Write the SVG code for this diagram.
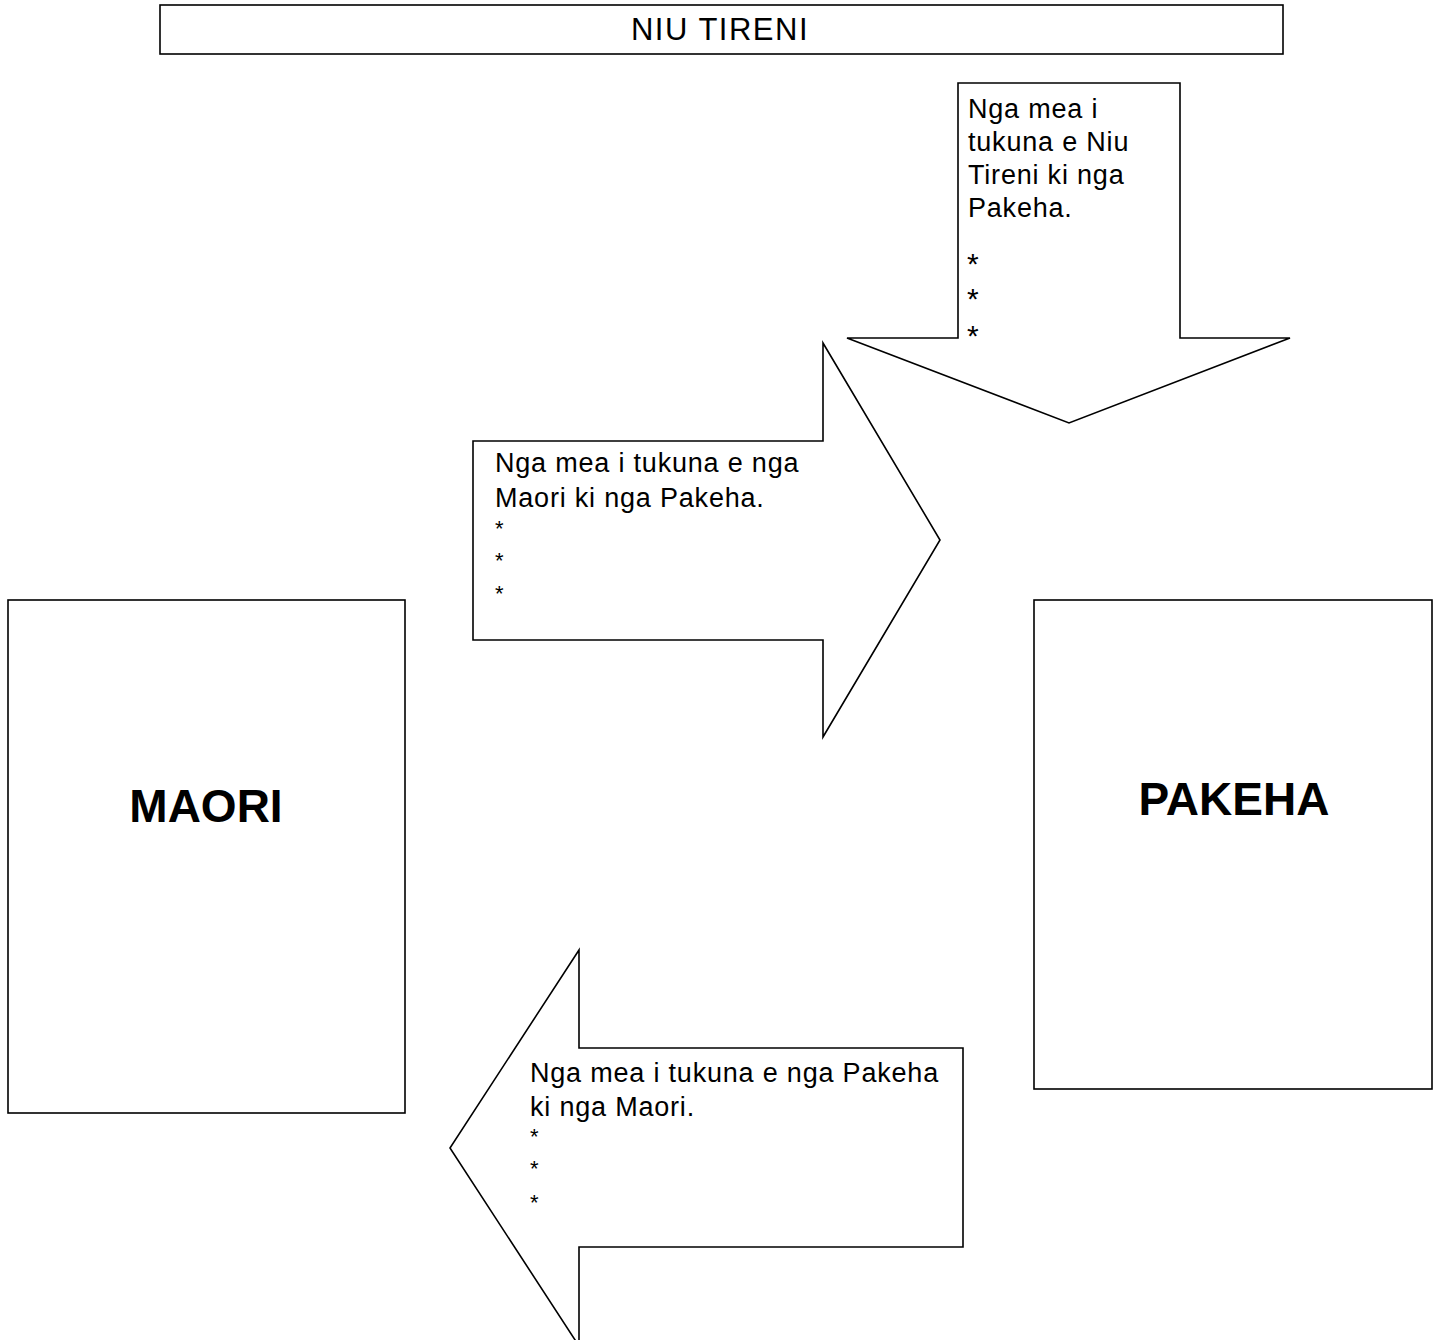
<svg xmlns="http://www.w3.org/2000/svg" width="1439" height="1340" viewBox="0 0 1439 1340">
<style>
.sh{fill:#fff;stroke:#000;stroke-width:1.6}
.t{font-family:"Liberation Sans",Arial,sans-serif;font-size:27px;letter-spacing:0.8px;fill:#000}
.a{font-family:"Liberation Sans",Arial,sans-serif;font-size:22px;fill:#000}
.s{font-family:"Liberation Sans",Arial,sans-serif;font-size:30px;fill:#000}
.b{font-family:"Liberation Sans",Arial,sans-serif;font-size:46px;font-weight:bold;fill:#000;text-anchor:middle}
.h{font-family:"Liberation Sans",Arial,sans-serif;font-size:31px;letter-spacing:1.5px;fill:#000;text-anchor:middle}
</style>
<rect width="1439" height="1340" fill="#fff"/>
<g id="banner">
<rect class="sh" x="160" y="5" width="1123" height="49" stroke-width="2"/>
<text class="h" x="720" y="40">NIU TIRENI</text>
</g>
<g id="maori">
<rect class="sh" x="8" y="600" width="397" height="513"/>
<text class="b" x="206" y="822">MAORI</text>
</g>
<g id="pakeha">
<rect class="sh" x="1034" y="600" width="398" height="489"/>
<text class="b" x="1234" y="815">PAKEHA</text>
</g>
<g id="connectors">
<g id="arrow-nz-pakeha">
<polygon class="sh" points="958,83 1180,83 1180,338 1290,338 1069,423 847,338 958,338"/>
<text class="t" x="968" y="118">Nga mea i</text>
<text class="t" x="968" y="151">tukuna e Niu</text>
<text class="t" x="968" y="184">Tireni ki nga</text>
<text class="t" x="968" y="217">Pakeha.</text>
<text class="s" x="967" y="274">*</text>
<text class="s" x="967" y="309">*</text>
<text class="s" x="967" y="346">*</text>
</g>
<g id="arrow-maori-pakeha">
<polygon class="sh" points="473,441 823,441 823,343 940,540 823,737 823,640 473,640"/>
<text class="t" x="495" y="472">Nga mea i tukuna e nga</text>
<text class="t" x="495" y="507">Maori ki nga Pakeha.</text>
<text class="a" x="495" y="536">*</text>
<text class="a" x="495" y="568">*</text>
<text class="a" x="495" y="601">*</text>
</g>
<g id="arrow-pakeha-maori">
<polygon class="sh" points="963,1048 579,1048 579,950 450,1148 579,1346 579,1247 963,1247"/>
<text class="t" x="530" y="1082">Nga mea i tukuna e nga Pakeha</text>
<text class="t" x="530" y="1116">ki nga Maori.</text>
<text class="a" x="530" y="1144">*</text>
<text class="a" x="530" y="1176">*</text>
<text class="a" x="530" y="1210">*</text>
</g>
</g>
</svg>
